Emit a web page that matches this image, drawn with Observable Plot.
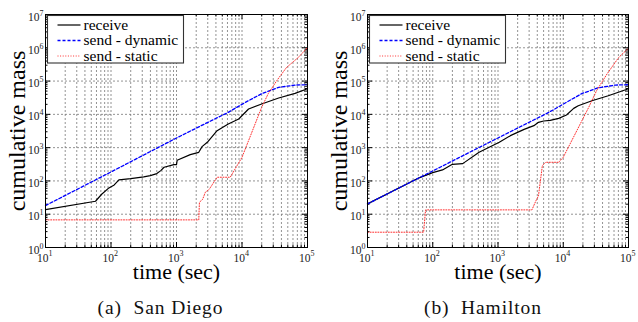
<!DOCTYPE html>
<html><head><meta charset="utf-8">
<script src="https://cdn.jsdelivr.net/npm/d3@7"></script>
<script src="https://cdn.jsdelivr.net/npm/@observablehq/plot@0.6"></script>
<style>
body{margin:0;background:#fff;}
#wrap{position:relative;width:638px;height:322px;overflow:hidden;font-family:"Liberation Serif",serif;background:#fff;}
#wrap svg, #wrap svg text{font-family:"Liberation Serif",serif;}
.panel{position:absolute;top:0;}
.cap{position:absolute;top:298px;font-size:19.5px;line-height:20px;white-space:pre;transform:translateX(-50%);letter-spacing:0.9px;color:#111;}
</style></head><body><div id="wrap"></div>
<script>
// ---------- data ----------
const seriesNames = ["receive", "send - dynamic", "send - static"];
const panelTitles = ["(a)  San Diego", "(b)  Hamilton"];
const xLabel = "time (sec)";
const yLabel = "cumulative mass";

// San Diego
const sdRecvT = [10, 58, 72, 93, 112, 132, 200, 316, 398, 501, 575, 646, 912, 1000, 1023, 1622, 2188, 2455, 2951, 4169, 6166, 8913, 12589, 19953, 36308, 64565, 100000];
const sdRecvM = [13.8, 24.5, 39.8, 61.7, 75.9, 107, 117, 132, 145, 166, 204, 257, 309, 309, 417, 617, 724, 1072, 1445, 3236, 5129, 7244, 14454, 20417, 30903, 42658, 58884];
const sdDynT = [10, 100, 1000, 3162, 6166, 11220, 19953, 36308, 64565, 100000];
const sdDynM = [18.2, 186, 1950, 6026, 11482, 22909, 41687, 64565, 75858, 77625];
const sdStatT = [10, 2188, 2239, 2512, 2754, 3162, 3715, 4169, 6607, 10000, 12589, 15849, 19953, 25119, 33884, 47863, 72444, 100000];
const sdStatM = [6.76, 6.76, 22.9, 28.2, 45.7, 56.2, 91.2, 129, 129, 513, 1622, 5129, 16218, 41687, 102329, 257040, 512861, 1023293];

// Hamilton
const hRecvT = [10, 63, 100, 141, 200, 288, 513, 1047, 1549, 2512, 3548, 4169, 5012, 6310, 8511, 11220, 14454, 16982, 27542, 48978, 100000];
const hRecvM = [20.4, 126, 178, 214, 316, 331, 724, 1445, 2291, 3548, 4571, 5754, 6310, 6607, 7586, 9550, 15136, 18197, 25704, 36308, 58884];
const hDynT = [10, 100, 1000, 5888, 10715, 19055, 34674, 63096, 100000];
const hDynM = [20.4, 200, 1950, 11220, 21878, 41687, 63096, 75858, 77625];
const hStatT = [10, 72.4, 77.6, 3311, 3802, 4169, 4467, 4786, 5370, 8511, 10000, 13490, 18197, 24547, 32359, 46774, 70795, 100000];
const hStatM = [2.88, 2.88, 13.5, 13.5, 25.1, 35.5, 102, 288, 363, 363, 513, 1622, 5129, 16218, 51286, 162181, 512861, 977237];

// ticks
const xMajor = [10, 100, 1000, 10000, 100000];
const xExp = ["1", "2", "3", "4", "5"];
const yMajor = [1, 10, 100, 1000, 10000, 100000, 1000000, 10000000];
const yExp = ["0", "1", "2", "3", "4", "5", "6", "7"];
const minorMult = [2, 3, 4, 5, 6, 7, 8, 9];
const xMinor = xMajor.slice(0, -1).flatMap(d => minorMult.map(m => m * d));
const yMinor = yMajor.slice(0, -1).flatMap(d => minorMult.map(m => m * d));

// styles
const seriesStyles = [
  {stroke: "#000000", strokeWidth: 1.2, strokeDasharray: null},
  {stroke: "#0000ff", strokeWidth: 1.3, strokeDasharray: "3,2"},
  {stroke: "#ff3030", strokeWidth: 1.0, strokeDasharray: "1,1.6"}
];

const zip = (T, M) => T.map((t, i) => ({t, m: M[i]}));

function panel(series, marginLeft, marginRight) {
  const W = 319, H = 285, mt = 14, mb = 38;
  const plotW = W - marginLeft - marginRight, plotH = H - mt - mb;
  const grid = {stroke: "#777", strokeWidth: 0.8, strokeDasharray: "2,2"};
  const lbl = {fill: "#222", lineAnchor: "bottom"};
  const marks = [
    Plot.ruleX(xMajor.concat(xMinor).filter(d => d > 10 && d < 100000), grid),
    Plot.ruleY(yMajor.filter(d => d > 1 && d < 1e7), grid),
    // inward tick marks
    Plot.tickX(xMajor, {x: d => d, insetTop: plotH - 5, stroke: "#000"}),
    Plot.tickX(xMajor, {x: d => d, insetBottom: plotH - 5, stroke: "#000"}),
    Plot.tickX(xMinor, {x: d => d, insetTop: plotH - 2.5, stroke: "#000"}),
    Plot.tickX(xMinor, {x: d => d, insetBottom: plotH - 2.5, stroke: "#000"}),
    Plot.tickY(yMajor, {y: d => d, insetRight: plotW - 5, stroke: "#000"}),
    Plot.tickY(yMajor, {y: d => d, insetLeft: plotW - 5, stroke: "#000"}),
    Plot.tickY(yMinor, {y: d => d, insetRight: plotW - 2.5, stroke: "#000"}),
    Plot.tickY(yMinor, {y: d => d, insetLeft: plotW - 2.5, stroke: "#000"}),
  ];
  series.forEach((s, i) => {
    marks.push(Plot.line(s, {x: "t", y: "m", ...seriesStyles[i], strokeLinejoin: "round"}));
  });
  marks.push(
    Plot.frame({stroke: "#000", strokeWidth: 1}),
    // x tick labels 10^k
    Plot.text(xMajor, {x: d => d, frameAnchor: "bottom", text: () => "10", textAnchor: "end", dx: 3, dy: 14, fontSize: 11.5, ...lbl}),
    Plot.text(xMajor, {x: d => d, frameAnchor: "bottom", text: (d, i) => xExp[i], textAnchor: "start", dx: 3, dy: 8, fontSize: 8, ...lbl}),
    // y tick labels
    Plot.text(yMajor, {y: d => d, frameAnchor: "left", text: () => "10", textAnchor: "end", dx: -6, dy: 6, fontSize: 11.5, ...lbl}),
    Plot.text(yMajor, {y: d => d, frameAnchor: "left", text: (d, i) => yExp[i], textAnchor: "start", dx: -6, dy: 1, fontSize: 8, ...lbl}),
    // axis labels
    Plot.text([xLabel], {frameAnchor: "bottom", text: d => d, textAnchor: "middle", dy: 31, fontSize: 22, lineAnchor: "bottom", fill: "#000"}),
    Plot.text([yLabel], {frameAnchor: "left", text: d => d, textAnchor: "middle", rotate: -90, dx: -28, fontSize: 24, lineAnchor: "middle", fill: "#000"})
  );
  const svg = Plot.plot({
    width: W, height: H,
    marginLeft, marginRight, marginTop: mt, marginBottom: mb,
    x: {type: "log", domain: [10, 1e5], axis: null},
    y: {type: "log", domain: [1, 1e7], axis: null},
    style: {background: "white", overflow: "visible"},
    marks
  });
  svg.setAttribute("font-family", "'Liberation Serif', serif");
  // legend (inside the frame, upper left)
  const g = d3.select(svg).append("g")
    .attr("transform", `translate(${marginLeft + 2.5},${mt + 1.5})`)
    .attr("text-anchor", "start");
  g.append("rect").attr("width", 136).attr("height", 47.5)
    .attr("fill", "white").attr("stroke", "#333").attr("stroke-width", 1.1);
  seriesNames.forEach((name, i) => {
    const yy = 9.5 + i * 15.5;
    const st = seriesStyles[i];
    g.append("line").attr("x1", 10).attr("x2", 33).attr("y1", yy).attr("y2", yy)
      .attr("stroke", st.stroke).attr("stroke-width", st.strokeWidth)
      .attr("stroke-dasharray", st.strokeDasharray);
    g.append("text").attr("x", 36).attr("y", yy + 4.5).attr("font-size", 15.5)
      .attr("text-anchor", "start").attr("fill", "#000").text(name);
  });
  return svg;
}

const wrap = document.getElementById("wrap");
const p1 = panel([zip(sdRecvT, sdRecvM), zip(sdDynT, sdDynM), zip(sdStatT, sdStatM)], 45, 12);
const p2 = panel([zip(hRecvT, hRecvM), zip(hDynT, hDynM), zip(hStatT, hStatM)], 48, 10);
p1.classList.add("panel"); p1.style.left = "0px";
p2.classList.add("panel"); p2.style.left = "319px";
wrap.appendChild(p1);
wrap.appendChild(p2);
[160.5, 483].forEach((cx, i) => {
  const d = document.createElement("div");
  d.className = "cap";
  d.style.left = cx + "px";
  d.textContent = panelTitles[i];
  wrap.appendChild(d);
});
</script></body></html>
